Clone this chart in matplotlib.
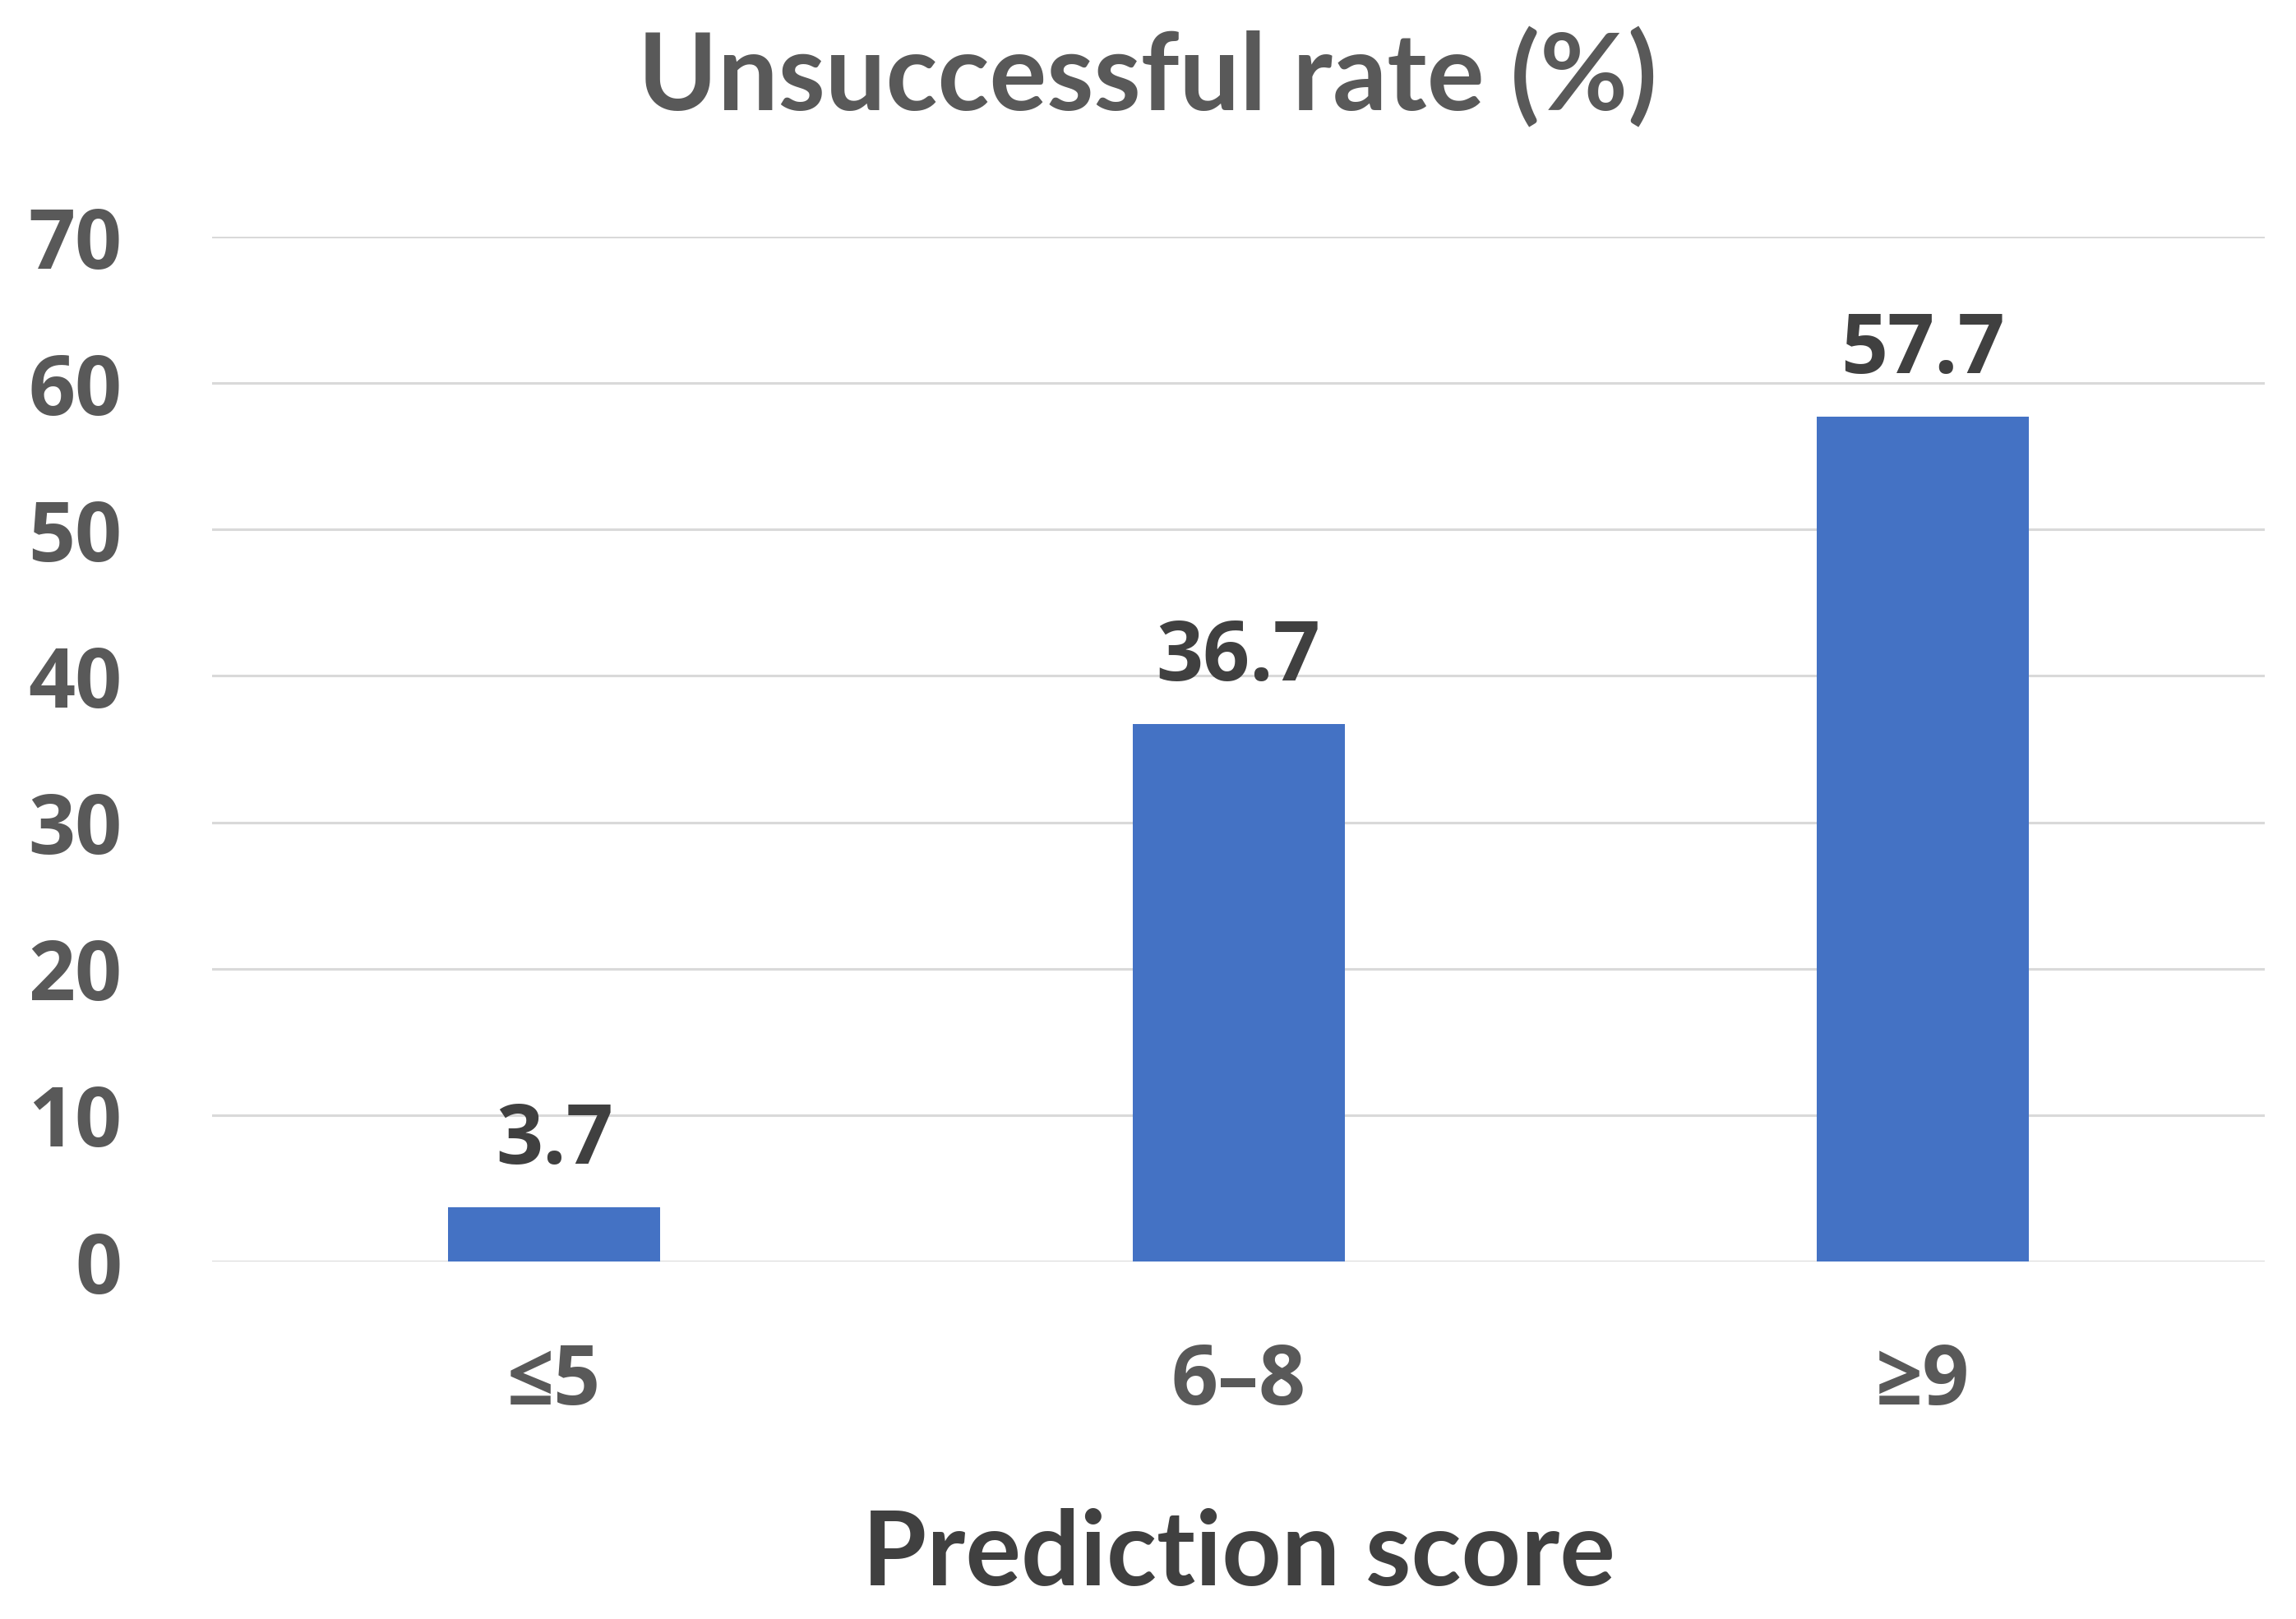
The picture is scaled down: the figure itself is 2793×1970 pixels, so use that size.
import matplotlib
matplotlib.use("Agg")
import matplotlib.pyplot as plt

categories = ["≤5", "6–8", "≥9"]
values = [3.7, 36.7, 57.7]
yticks = [0, 10, 20, 30, 40, 50, 60, 70]

plt.rcParams["font.family"] = ["Lato", "DejaVu Sans"]
plt.rcParams["font.weight"] = "bold"
num_font = ["Open Sans", "DejaVu Sans"]

fig = plt.figure(figsize=(27.93, 19.70), dpi=100)
ax = fig.add_axes([0.0924, 0.2208, 0.894, 0.633])

x = range(len(categories))
bars = ax.bar(x, values, width=0.31, color="#4472C4", zorder=3)

for xi, v in zip(x, values):
    ax.annotate(f"{v:.1f}", (xi, v), xytext=(0, 38), textcoords="offset points",
                ha="center", va="baseline", fontsize=72, fontweight="bold",
                color="#404040", family=num_font)

ax.set_xlim(-0.5, 2.5)
ax.set_ylim(0, 70)
ax.set_yticks(yticks)
ax.set_yticklabels([str(t) for t in yticks], fontsize=72, fontweight="bold",
                   color="#595959", family=num_font)
ax.set_xticks(list(x))
ax.set_xticklabels(categories, fontsize=72, fontweight="bold", color="#595959",
                   family=num_font)
ax.tick_params(axis="y", length=0, pad=79)
ax.tick_params(axis="x", length=0, pad=70)

ax.grid(axis="y", color="#D9D9D9", linewidth=2.2, zorder=0)
for s in ax.spines.values():
    s.set_visible(False)

ax.set_xlabel("Prediction score", fontsize=91, fontweight="bold", color="#404040", labelpad=73)
fig.text(0.5, 0.932, "Unsuccessful rate (%)", ha="center", va="baseline",
         fontsize=94, fontweight="bold", color="#595959")

fig.savefig("out.png", dpi=100, facecolor="white")
